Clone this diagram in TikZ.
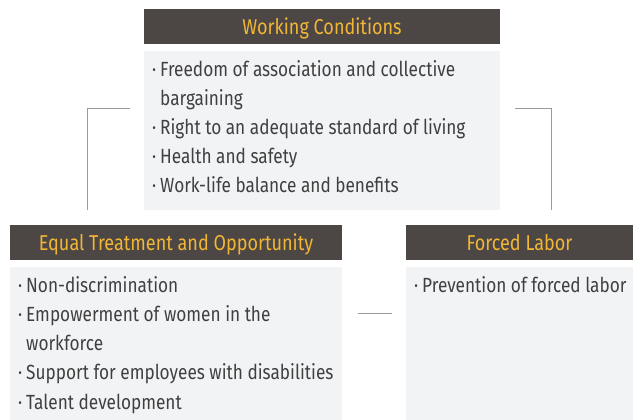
\documentclass[tikz,border=0pt]{standalone}
\usepackage{fontspec}
\setmainfont{Fira Sans}[FakeStretch=0.84]
\definecolor{hdrfill}{HTML}{4C4745}
\definecolor{hdrtext}{HTML}{F2B634}
\definecolor{bodyfill}{HTML}{F2F3F5}
\definecolor{bodytext}{HTML}{404040}
\definecolor{connclr}{HTML}{9A9A9A}
\newcommand{\myitem}[1]{\makebox[8pt][l]{·}#1}
\newcommand{\mycont}[1]{\hspace*{8pt}#1}
\begin{document}
\begin{tikzpicture}[x=1pt,y=-1pt,
  hdr/.style={fill=hdrfill,draw=none,anchor=north west,inner sep=0pt},
  hdrtxt/.style={text=hdrtext,font=\fontsize{21.5}{24}\selectfont,inner sep=0pt,anchor=base},
  bodybox/.style={fill=bodyfill,draw=none,anchor=north west,inner sep=0pt},
  line/.style={anchor=base west,inner sep=0pt,text=bodytext,font=\fontsize{20.5}{24}\selectfont},
  conn/.style={draw=connclr,line width=0.9pt}]
\useasboundingbox (0,0) rectangle (633,420);
% top block
\node[hdr,minimum width=356pt,minimum height=35pt] (wch) at (144,9) {};
\node[hdrtxt] (wct) at (322,34.5) {Working Conditions};
\node[bodybox,minimum width=356pt,minimum height=159pt] (wcb) at (144,51) {};
\node[line] (w1) at (152,77) {\myitem{Freedom of association and collective}};
\node[line] (w2) at (152,106) {\mycont{bargaining}};
\node[line] (w3) at (152,135) {\myitem{Right to an adequate standard of living}};
\node[line] (w4) at (152,164) {\myitem{Health and safety}};
\node[line] (w5) at (152,193) {\myitem{Work-life balance and benefits}};
% left block
\node[hdr,minimum width=332pt,minimum height=35pt] (eqh) at (10,225) {};
\node[hdrtxt] (eqt) at (176,250.5) {Equal Treatment and Opportunity};
\node[bodybox,minimum width=332pt,minimum height=153pt] (eqb) at (10,267) {};
\node[line] (e1) at (18,292) {\myitem{Non-discrimination}};
\node[line] (e2) at (18,321) {\myitem{Empowerment of women in the}};
\node[line] (e3) at (18,350) {\mycont{workforce}};
\node[line] (e4) at (18,379) {\myitem{Support for employees with disabilities}};
\node[line] (e5) at (18,409) {\myitem{Talent development}};
% right block
\node[hdr,minimum width=227pt,minimum height=35pt] (flh) at (406,225) {};
\node[hdrtxt] (flt) at (519.5,250.5) {Forced Labor};
\node[bodybox,minimum width=227pt,minimum height=153pt] (flb) at (406,267) {};
\node[line] (f1) at (414,292) {\myitem{Prevention of forced labor}};
% connectors
\coordinate (la) at (130,108);
\coordinate (lb) at (87,210);
\coordinate (ra) at (515,108);
\coordinate (rb) at (551,210);
\coordinate (ma) at (358,313);
\coordinate (mb) at (392,313);
\draw[conn] (la) -| (lb);
\draw[conn] (ra) -| (rb);
\draw[conn] (ma) -- (mb);
\end{tikzpicture}
\end{document}
